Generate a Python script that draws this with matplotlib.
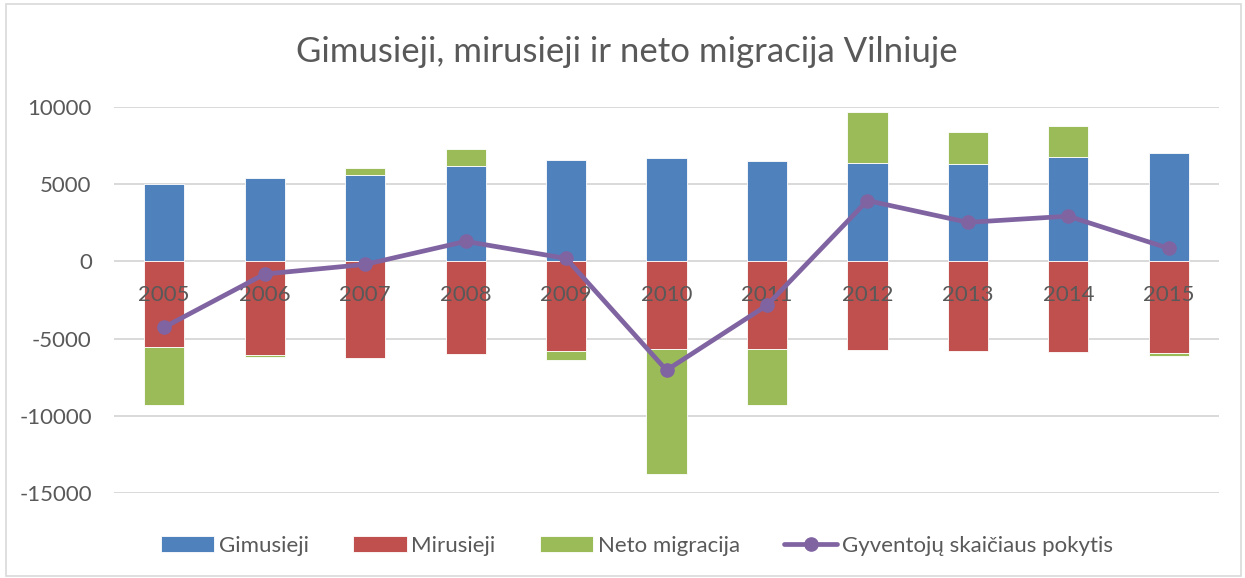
import matplotlib
matplotlib.use("Agg")
import matplotlib.pyplot as plt
from matplotlib.patches import Rectangle
import numpy as np

years = ["2005", "2006", "2007", "2008", "2009", "2010", "2011", "2012", "2013", "2014", "2015"]
gimusieji = [5010, 5390, 5570, 6150, 6540, 6690, 6470, 6360, 6280, 6730, 6990]
mirusieji = [-5520, -6080, -6220, -5960, -5830, -5650, -5670, -5730, -5830, -5860, -5910]
neto_migracija = [-3750, -130, 450, 1100, -520, -8080, -3640, 3300, 2070, 2050, -240]
pokytis = [-4260, -820, -200, 1290, 190, -7040, -2840, 3930, 2520, 2920, 840]
yticks = [10000, 5000, 0, -5000, -10000, -15000]

title = "Gimusieji, mirusieji ir neto migracija Vilniuje"
labels = ["Gimusieji", "Mirusieji", "Neto migracija", "Gyventojų skaičiaus pokytis"]

C_BLUE = "#4F81BD"
C_RED = "#C0504D"
C_GREEN = "#9BBB59"
C_PURPLE = "#8064A2"
TXT = "#595959"
GRID = "#D9D9D9"

plt.rcParams['font.family'] = ['Lato', 'DejaVu Sans']

W, H = 1245, 578
fig = plt.figure(figsize=(W / 100, H / 100), dpi=100)
ax = fig.add_axes([114 / W, (H - 493.3) / H, (1219 - 114) / W, (493.3 - 106.7) / H])

x = np.arange(len(years))
gim = np.array(gimusieji, dtype=float)
mir = np.array(mirusieji, dtype=float)
neto = np.array(neto_migracija, dtype=float)
# stacking: positive values stack above gimusieji, negatives stack below mirusieji
neto_bottom = np.where(neto >= 0, gim, mir)

bw = 0.4
b1 = ax.bar(x, gim, bw, color=C_BLUE, edgecolor="white", linewidth=0.6, label=labels[0], zorder=1)
b2 = ax.bar(x, mir, bw, color=C_RED, edgecolor="white", linewidth=0.6, label=labels[1], zorder=1)
b3 = ax.bar(x, neto, bw, bottom=neto_bottom, color=C_GREEN, edgecolor="white", linewidth=0.6,
            label=labels[2], zorder=1)
l1, = ax.plot(x, pokytis, color=C_PURPLE, linewidth=3.4, marker="o", markersize=9.5,
              label=labels[3], zorder=3, solid_capstyle="round")

ax.set_xlim(-0.5, len(years) - 0.5)
ax.set_ylim(-15000, 10000)
ax.set_yticks(yticks)
ax.set_yticklabels([str(v) for v in yticks])
ax.set_xticks(x)
ax.set_xticklabels(years)

ax.set_axisbelow(True)
ax.yaxis.grid(True, color=GRID, linewidth=1.4)
ax.xaxis.set_zorder(1.5)

for s in ["top", "right", "left"]:
    ax.spines[s].set_visible(False)
ax.spines["bottom"].set_position(("data", 0))
ax.spines["bottom"].set_visible(False)

ax.tick_params(axis="y", length=0, pad=16, labelsize=16, labelcolor=TXT)
ax.tick_params(axis="x", length=0, pad=17, labelsize=16, labelcolor=TXT)

fig.text(627 / W, 1 - 52 / H, title, ha="center", va="center", fontsize=25, color=TXT)

fig.legend([b1, b2, b3, l1], labels, loc="center", bbox_to_anchor=(637 / W, 1 - 546 / H), ncol=4,
           frameon=False, fontsize=16, labelcolor=TXT, handlelength=2.4, handleheight=0.7,
           handletextpad=0.2, columnspacing=2.0)

fig.patches.append(Rectangle((6 / W, 2 / H), (W - 10) / W, (H - 6) / H, transform=fig.transFigure,
                             fill=False, edgecolor=GRID, linewidth=1.2))

fig.savefig("out.png", dpi=100)
